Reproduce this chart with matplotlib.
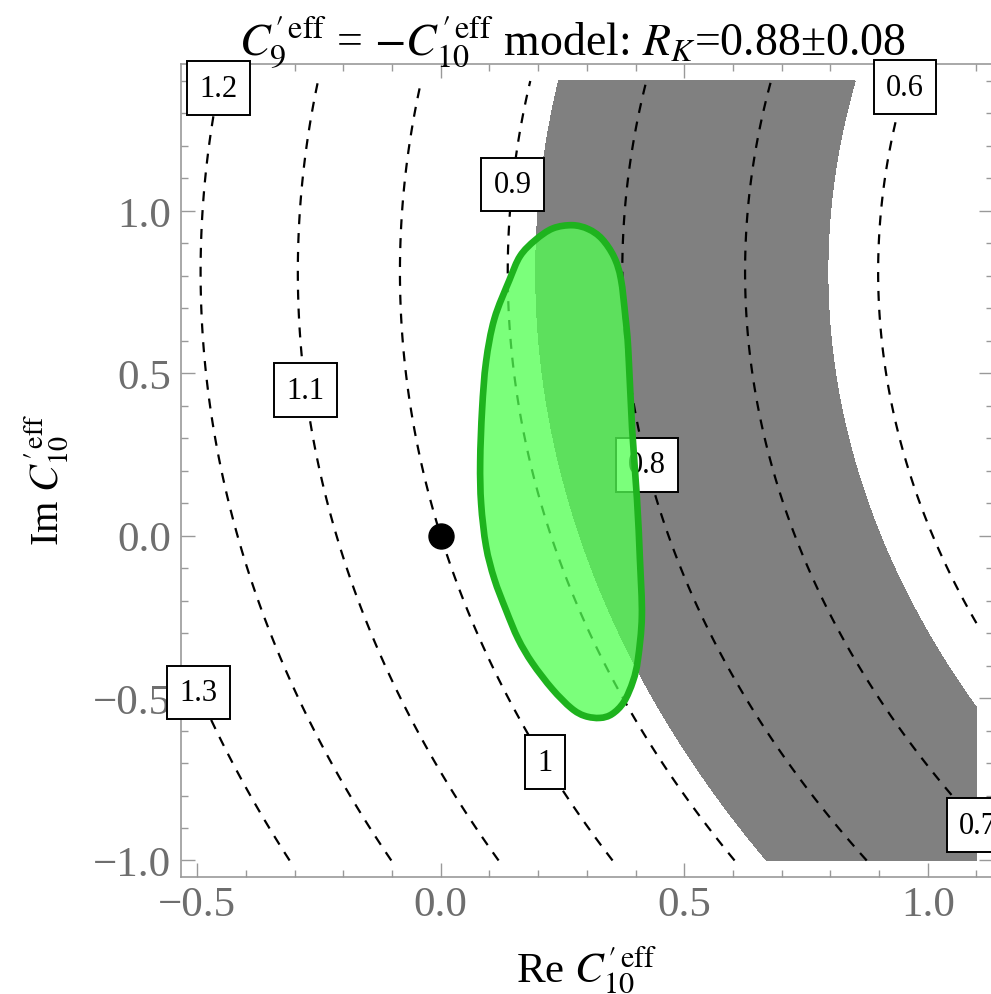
import matplotlib
matplotlib.use("Agg")
import matplotlib.pyplot as plt
import numpy as np
from matplotlib.ticker import MultipleLocator
from matplotlib.path import Path
from matplotlib.patches import PathPatch

plt.rcParams['font.family'] = ['Liberation Serif', 'DejaVu Serif']
plt.rcParams['mathtext.fontset'] = 'stix'

# R_K contour model: circles around (cx, cy),
# R = 1 + k*(r^2 - r_sm^2), the SM point (0,0) lies on R = 1
center_x = 3.895
center_y = 0.812
k_scale = 0.0584
levels = [0.6, 0.7, 0.8, 0.9, 1.0, 1.1, 1.2, 1.3]
label_y = [1.381, -0.891, 0.218, 1.082, -0.697, 0.448, 1.378, -0.482]

# measured band R_K = 0.88 +- 0.08, edges as radii around the same centre
band_radius = [3.10, 3.70]

# plot region of the contour / region plots
x_range = [-0.5, 1.1]
y_range = [-1.0, 1.4]

# fit region boundary (green), clockwise from the top
ell_x = [0.270, 0.303, 0.331, 0.356, 0.370, 0.379, 0.385, 0.393, 0.403,
         0.409, 0.413, 0.405, 0.395, 0.376, 0.352, 0.327, 0.296, 0.268,
         0.229, 0.188, 0.159, 0.134, 0.110, 0.093, 0.083, 0.081, 0.085,
         0.093, 0.110, 0.141, 0.163, 0.194, 0.230]
ell_y = [0.956, 0.944, 0.914, 0.858, 0.790, 0.677, 0.575, 0.329, 0.113,
         -0.072, -0.247, -0.380, -0.447, -0.512, -0.549, -0.561, -0.555, -0.531,
         -0.472, -0.392, -0.318, -0.229, -0.133, -0.032, 0.098, 0.227, 0.390,
         0.535, 0.667, 0.787, 0.861, 0.910, 0.946]

sm_point = [0.0, 0.0]

fig = plt.figure(figsize=(9.91, 9.95), dpi=100)
ax = fig.add_axes([181/991, (995-877.7)/995, (993-181)/991, (877.7-65)/995])

xg = np.linspace(x_range[0], x_range[1], 800)
yg = np.linspace(y_range[0], y_range[1], 1000)
X, Y = np.meshgrid(xg, yg)
r2 = (X-center_x)**2 + (Y-center_y)**2
r_sm2 = center_x**2 + center_y**2
R = 1 + k_scale*(r2 - r_sm2)

# gray band
ax.contourf(X, Y, np.sqrt(r2), levels=band_radius, colors=['#808080'], zorder=1)

# dashed R_K contours
ax.contour(X, Y, R, levels=levels, colors='black', linewidths=1.6,
           linestyles=[(0, (4.5, 4))], zorder=2)

for lev, ly in zip(levels, label_y):
    rr = np.sqrt(r_sm2 + (lev-1)/k_scale)
    lx = center_x - np.sqrt(rr**2 - (ly-center_y)**2)
    ax.text(lx, ly, '{:g}'.format(lev), fontsize=22, ha='center', va='center',
            zorder=3, clip_on=False,
            bbox=dict(boxstyle='square,pad=0.4', fc='white', ec='black', lw=1.4))

# green fit region: closed smooth curve through the read boundary points
pts = np.column_stack([ell_x, ell_y])
n = len(pts)
verts = [pts[0]]
codes = [Path.MOVETO]
for i in range(n):
    p0, p1, p2, p3 = pts[i-1], pts[i], pts[(i+1) % n], pts[(i+2) % n]
    verts += [p1 + (p2-p0)/6, p2 - (p3-p1)/6, p2]
    codes += [Path.CURVE4]*3
verts.append(pts[0])
codes.append(Path.CLOSEPOLY)
ell_path = Path(verts, codes)
ax.add_patch(PathPatch(ell_path, fc='#52FF52', ec='none', alpha=0.76, zorder=4))
ax.add_patch(PathPatch(ell_path, fc='none', ec='#1EB31E', lw=4.8, zorder=5))

ax.plot(sm_point[0], sm_point[1], 'o', color='black', ms=18, zorder=6)

ax.set_xlim(-0.5333, 1.134)
ax.set_ylim(-1.0499, 1.4523)

ax.xaxis.set_major_locator(MultipleLocator(0.5))
ax.xaxis.set_minor_locator(MultipleLocator(0.1))
ax.yaxis.set_major_locator(MultipleLocator(0.5))
ax.yaxis.set_minor_locator(MultipleLocator(0.1))
ax.tick_params(which='both', direction='in', top=True, right=True,
               color='#999999', width=1.0, labelcolor='#6e6e6e', labelsize=31)
ax.tick_params(which='major', length=10)
ax.tick_params(which='minor', length=5)
ax.tick_params(axis='x', pad=6)
ax.tick_params(axis='y', pad=7)
for sp in ax.spines.values():
    sp.set_color('#999999')
    sp.set_linewidth(1.2)

fig.text(572/991, 1 - 55/995,
         r"$C_9^{\prime\,\mathrm{eff}}$ = $-C_{10}^{\prime\,\mathrm{eff}}$ model: $R_K$=0.88±0.08",
         fontsize=33, ha='center', va='baseline')
ax.set_xlabel(r"Re $C_{10}^{\prime\,\mathrm{eff}}$", fontsize=31)
ax.set_ylabel(r"Im $C_{10}^{\prime\,\mathrm{eff}}$", fontsize=29)
ax.xaxis.set_label_coords(0.5, -0.082)
ax.yaxis.set_label_coords(-0.135, 0.49)

fig.savefig("out.png", dpi=100)
